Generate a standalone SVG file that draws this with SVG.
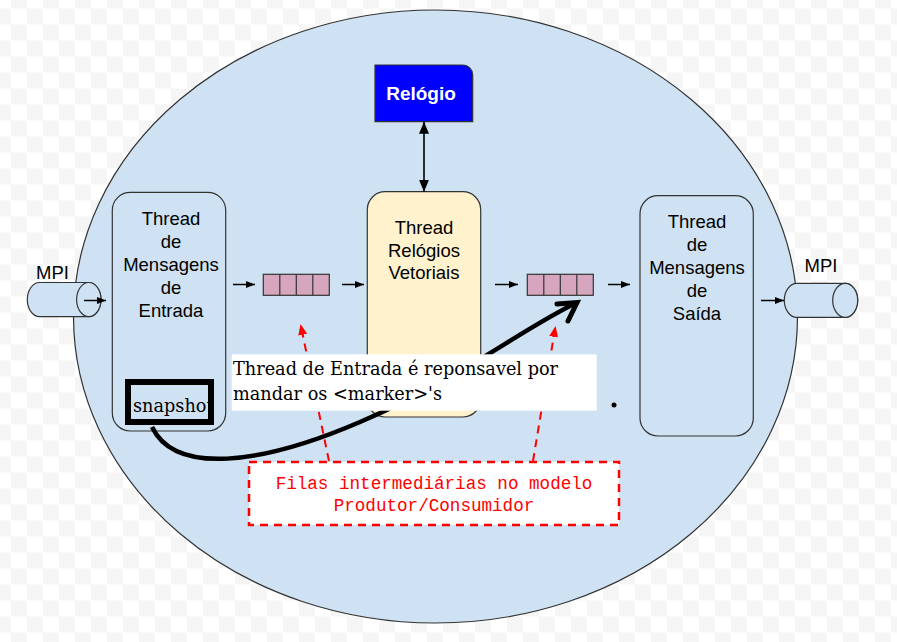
<svg xmlns="http://www.w3.org/2000/svg" width="897" height="642" viewBox="0 0 897 642">
<style>
.bg{fill:url(#checker)}
.box{fill:#cfe2f3;stroke:#333;stroke-width:1.2}
.t{font-family:"Liberation Sans",Arial,sans-serif;font-size:18.5px;text-anchor:middle;fill:#000}
.q{fill:#d5a6bd;stroke:#333;stroke-width:1.2}
.conn{stroke:#000;stroke-width:1.5;fill:none;marker-end:url(#ah)}
.red{stroke:#f00;stroke-width:2;stroke-dasharray:8,6;fill:none;marker-end:url(#rah)}
.serif{font-family:"DejaVu Serif","Liberation Serif",serif;font-size:17.7px;fill:#000}
.mono{font-family:"Liberation Mono","Courier New",monospace;font-size:17.6px;fill:#f00;text-anchor:middle}
</style>
<defs>
<pattern id="checker" x="-5" y="8.5" width="32" height="32" patternUnits="userSpaceOnUse">
<rect width="32" height="32" fill="#fff"/>
<rect width="16" height="16" fill="#f5f5f5"/>
<rect x="16" y="16" width="16" height="16" fill="#f5f5f5"/>
</pattern>
<marker id="ah" markerUnits="userSpaceOnUse" markerWidth="10" markerHeight="8" refX="9" refY="3.5" orient="auto"><path d="M0,0 L9,3.5 L0,7 z" fill="#000"/></marker>
<marker id="bah" markerUnits="userSpaceOnUse" markerWidth="13" markerHeight="11" refX="12" refY="5" orient="auto-start-reverse"><path d="M0,0 L12,5 L0,10 z" fill="#000"/></marker>
<marker id="rah" markerUnits="userSpaceOnUse" markerWidth="12" markerHeight="10" refX="11" refY="4.5" orient="auto"><path d="M0,0 L11,4.5 L0,9 z" fill="#f00"/></marker>
</defs>
<rect class="bg" x="0" y="0" width="897" height="642"/>
<g id="processo">
<ellipse cx="435.5" cy="316.5" rx="362" ry="306.5" fill="#cfe2f3" stroke="#333" stroke-width="1.2"/>
</g>
<g id="mpi-entrada">
<path class="box" d="M39.5,282.5 L88.8,282.5 A12.2,17.1 0 0 1 88.8,316.7 L39.5,316.7 A12.2,17.1 0 0 1 39.5,282.5 Z"/>
<ellipse class="box" cx="88.8" cy="299.6" rx="12.2" ry="17.1"/>
<text class="t" x="52.5" y="279">MPI</text>
</g>
<g id="mpi-saida">
<path class="box" d="M796.8,283.3 L845.2,283.3 A12.5,17 0 0 1 845.2,317.3 L796.8,317.3 A12.5,17 0 0 1 796.8,283.3 Z"/>
<ellipse class="box" cx="845.2" cy="300.3" rx="12.5" ry="17"/>
<text class="t" x="821" y="271.5">MPI</text>
</g>
<g id="thread-entrada">
<rect class="box" x="112.3" y="192.3" width="113.4" height="238.7" rx="18" ry="18"/>
<text class="t" x="171" y="224.5">Thread</text>
<text class="t" x="171" y="247.5">de</text>
<text class="t" x="171" y="270.5">Mensagens</text>
<text class="t" x="171" y="293.5">de</text>
<text class="t" x="171" y="316.5">Entrada</text>
</g>
<g id="thread-relogios">
<rect x="367.3" y="191.7" width="113.4" height="225.3" rx="18" ry="18" fill="#fff2cc" stroke="#333" stroke-width="1.2"/>
<text class="t" x="424" y="234">Thread</text>
<text class="t" x="424" y="256.5">Relógios</text>
<text class="t" x="424" y="279">Vetoriais</text>
</g>
<g id="thread-saida">
<rect class="box" x="640" y="195.7" width="113.3" height="240.3" rx="18" ry="18"/>
<text class="t" x="697" y="228">Thread</text>
<text class="t" x="697" y="251">de</text>
<text class="t" x="697" y="274">Mensagens</text>
<text class="t" x="697" y="297">de</text>
<text class="t" x="697" y="320">Saída</text>
</g>
<g id="relogio">
<path d="M375,65 L462.7,65 A10,10 0 0 1 472.7,75 L472.7,121.7 L375,121.7 Z" fill="#0000ff" stroke="#333" stroke-width="1.2"/>
<text x="421" y="100" font-family="'Liberation Sans',Arial,sans-serif" font-size="19" font-weight="bold" fill="#fff" text-anchor="middle">Relógio</text>
</g>
<g id="fila-1">
<rect class="q" x="263.3" y="274.3" width="66" height="21"/>
<path d="M279.8,274.3 V295.3 M296.3,274.3 V295.3 M312.8,274.3 V295.3" stroke="#333" stroke-width="1.2"/>
</g>
<g id="fila-2">
<rect class="q" x="527.3" y="274.3" width="66" height="21"/>
<path d="M543.8,274.3 V295.3 M560.3,274.3 V295.3 M576.8,274.3 V295.3" stroke="#333" stroke-width="1.2"/>
</g>
<g id="connectors">
<line class="conn" x1="84" y1="300.5" x2="106" y2="300.5"/>
<line class="conn" x1="233" y1="284.5" x2="255" y2="284.5"/>
<line class="conn" x1="342" y1="284.5" x2="364" y2="284.5"/>
<line class="conn" x1="495" y1="284.5" x2="518" y2="284.5"/>
<line class="conn" x1="608" y1="284.5" x2="630" y2="284.5"/>
<line class="conn" x1="761" y1="300.5" x2="784" y2="300.5"/>
<line x1="424" y1="121.7" x2="424" y2="191.7" stroke="#000" stroke-width="1.6" marker-start="url(#bah)" marker-end="url(#bah)"/>
<path class="red" d="M329,461 L300.5,324"/>
<path class="red" d="M533,461 L555.5,326"/>
</g>
<g id="filas-nota">
<rect x="249" y="462" width="370" height="63" fill="#fff" stroke="#f00" stroke-width="2.5" stroke-dasharray="8,6"/>
<text class="mono" x="434" y="489">Filas intermediárias no modelo</text>
<text class="mono" x="434" y="511">Produtor/Consumidor</text>
</g>
<g id="marker-curva">
<path d="M152,427 C175,475 260,465 360,422 S520,330 576,303" fill="none" stroke="#000" stroke-width="4.5"/>
<polyline points="557,304 577,302.5 568,321" fill="none" stroke="#000" stroke-width="5" stroke-linecap="round" stroke-linejoin="miter"/>
</g>
<g id="anotacao">
<rect x="231.7" y="354.3" width="365" height="56.4" fill="#fff"/>
<text class="serif" x="233" y="375">Thread de Entrada é reponsavel por</text>
<text class="serif" x="233" y="400">mandar os &lt;marker&gt;'s</text>
</g>
<g id="snapshot">
<text class="serif" x="133" y="411.7">snapshot</text>
<rect x="128" y="382" width="83" height="40" fill="none" stroke="#000" stroke-width="6"/>
</g>
<circle cx="614" cy="405" r="2.5" fill="#000"/>
</svg>
